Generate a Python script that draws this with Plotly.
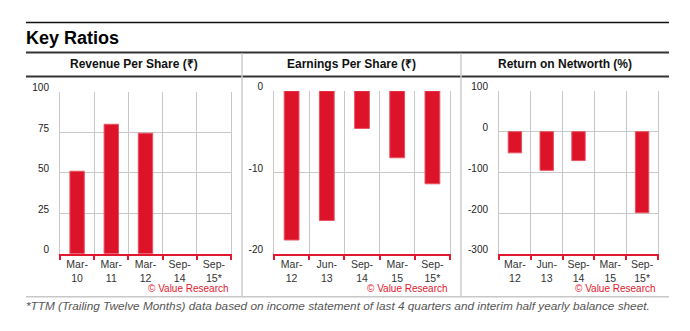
import plotly.graph_objects as go

# ---- data ----
rev_cats = ["Mar-<br>10", "Mar-<br>11", "Mar-<br>12", "Sep-<br>14", "Sep-<br>15*"]
rev_vals = [51, 80, 74.5, None, None]

eps_cats = ["Mar-<br>12", "Jun-<br>13", "Sep-<br>14", "Mar-<br>15", "Sep-<br>15*"]
eps_vals = [-18.3, -15.9, -4.6, -8.2, -11.4]

ronw_cats = ["Mar-<br>12", "Jun-<br>13", "Sep-<br>14", "Mar-<br>15", "Sep-<br>15*"]
ronw_vals = [-52, -95, -71, None, -199]

panel_titles = ["Revenue Per Share (₹)", "Earnings Per Share (₹)", "Return on Networth (%)"]
rev_ticks = [0, 25, 50, 75, 100]
eps_ticks = [-20, -10, 0]
ronw_ticks = [-300, -200, -100, 0, 100]
title_text = "Key Ratios"
footnote = "*TTM (Trailing Twelve Months) data based on income statement of last 4 quarters and interim half yearly balance sheet."
credit = "© Value Research"

W, H = 690, 331
BAR = "#dc1329"
RED = "#e2182f"
GRID = "#c8c8c8"
FONT = "Liberation Sans, Arial, Helvetica, sans-serif"

def px(x):
    return x / W

def py(y):
    return 1 - y / H

fig = go.Figure()

panels = [
    (rev_cats, rev_vals, rev_ticks, [0, 100], (60, 231), (85, 253)),
    (eps_cats, eps_vals, eps_ticks, [-20, 0], (274, 450), (84, 253)),
    (ronw_cats, ronw_vals, ronw_ticks, [-300, 100], (499, 658), (84, 253)),
]

for i, (cats, vals, ticks, rng, (x0, x1), (y0, y1)) in enumerate(panels):
    n = "" if i == 0 else str(i + 1)
    fig.add_trace(go.Bar(
        x=cats, y=vals, xaxis="x" + n, yaxis="y" + n,
        marker=dict(color=BAR, line=dict(color="#e9515f", width=1)),
        width=0.42, showlegend=False, hoverinfo="skip",
    ))
    fig.layout["xaxis" + n] = dict(
        domain=[px(x0), px(x1)], anchor="y" + n,
        type="category", tickson="boundaries", tickangle=0,
        showgrid=True, gridcolor=GRID, gridwidth=1,
        showline=True, linecolor=RED, linewidth=1.5,
        ticks="outside", ticklen=4, tickcolor=RED, tickwidth=1.5,
        tickfont=dict(family=FONT, size=10.5, color="#333"),
        fixedrange=True,
    )
    fig.layout["yaxis" + n] = dict(
        domain=[py(y1), py(y0)], anchor="x" + n,
        range=rng, tickvals=ticks, ticktext=[str(t) for t in ticks],
        showgrid=True, gridcolor=GRID, gridwidth=1, zeroline=False,
        showline=True, linecolor=GRID, linewidth=1, mirror=True,
        ticks="", ticklabelstandoff=8, ticklabelshift=-4,
        tickfont=dict(family=FONT, size=10, color="#222"),
        fixedrange=True,
    )
    fig.add_annotation(
        text=credit, xref="x" + n + " domain", x=1, xanchor="right",
        yref="paper", y=py(288.5), yanchor="middle", showarrow=False,
        font=dict(family=FONT, size=10, color=RED),
    )

# panel titles
for t, (a, b) in zip(panel_titles, [(26, 242), (242, 461), (461, 669)]):
    fig.add_annotation(
        text="<b>" + t + "</b>", xref="paper", x=px((a + b) / 2), xanchor="center",
        yref="paper", y=py(56.5), yanchor="middle", showarrow=False,
        font=dict(family=FONT, size=12, color="#111"),
    )

fig.add_annotation(
    text="<b>" + title_text + "</b>", xref="paper", x=px(24), xanchor="left",
    yref="paper", y=py(29), yanchor="middle", showarrow=False,
    font=dict(family=FONT, size=18, color="#000"),
)
fig.add_annotation(
    text="<i>" + footnote + "</i>", xref="paper", x=px(24), xanchor="left",
    yref="paper", y=py(307.5), yanchor="middle", showarrow=False,
    font=dict(family=FONT, size=11.8, color="#555"),
)

shapes = [
    dict(type="line", xref="paper", yref="paper", x0=px(26), x1=px(669), y0=py(13), y1=py(13),
         line=dict(color="#111", width=1.5)),
    dict(type="line", xref="paper", yref="paper", x0=px(26), x1=px(669), y0=py(44), y1=py(44),
         line=dict(color="#333", width=2)),
    dict(type="line", xref="paper", yref="paper", x0=px(26), x1=px(669), y0=py(69), y1=py(69),
         line=dict(color="#333", width=2)),
    dict(type="line", xref="paper", yref="paper", x0=px(26), x1=px(669), y0=py(297.5), y1=py(297.5),
         line=dict(color="#c8c8c8", width=1.5)),
    dict(type="line", xref="paper", yref="paper", x0=px(242), x1=px(242), y0=py(45), y1=py(297),
         line=dict(color="#cccccc", width=1.5)),
    dict(type="line", xref="paper", yref="paper", x0=px(461), x1=px(461), y0=py(45), y1=py(297),
         line=dict(color="#cccccc", width=1.5)),
]

fig.update_layout(
    width=W, height=H, margin=dict(l=0, r=0, t=0, b=0),
    paper_bgcolor="white", plot_bgcolor="white",
    shapes=shapes, bargap=0.58,
    font=dict(family=FONT),
)

fig.write_html("out.html", config={"displayModeBar": False})
